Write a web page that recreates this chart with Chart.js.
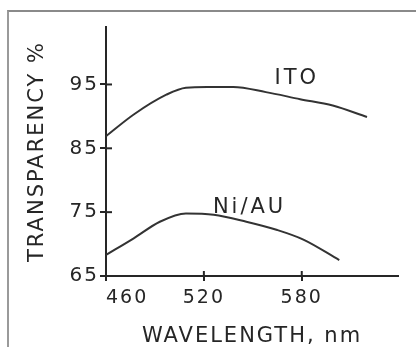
<!DOCTYPE html>
<html><head><meta charset="utf-8">
<script src="https://cdn.jsdelivr.net/npm/chart.js@4/dist/chart.umd.min.js"></script>
<style>
html,body{margin:0;padding:0;background:#fff;overflow:hidden;}
#wrap{position:relative;width:416px;height:347px;}
#frame{position:absolute;left:7px;top:10px;width:420px;height:400px;border-top:2px solid #8a8a8a;border-left:2px solid #9a9a9a;}
canvas{position:absolute;left:0;top:0;}
</style></head><body>
<div id="wrap"><div id="frame"></div><canvas id="c" width="416" height="347"></canvas></div>
<script>
// Data
const itoWavelengths = [460, 477, 497, 509, 522, 538, 558, 579, 599, 620];
const itoValues      = [86.9, 90.3, 93.4, 94.5, 94.6, 94.6, 93.8, 92.7, 91.7, 89.9];
const niAuWavelengths = [460, 477, 493, 509, 526, 546, 565, 581, 603];
const niAuValues      = [68.3, 70.9, 73.5, 74.8, 74.6, 73.5, 72.2, 70.7, 67.5];
const xTickValues = [460, 520, 580];
const yTickValues = [65, 75, 85, 95];
const seriesNames = ['ITO', 'Ni/AU'];
const seriesLabelAnchors = [[577, 95.9], [548, 75.65]];
const xAxisTitle = 'WAVELENGTH, nm';
const yAxisTitle = 'TRANSPARENCY %';

const INK = '#262626';
const FONT = '"DejaVu Sans", sans-serif';

const toPoints = (xs, ys) => xs.map((x, i) => ({x, y: ys[i]}));

const spacingPlugin = {
  id: 'spacing',
  beforeLayout(c) { c.ctx.letterSpacing = '2px'; },
  beforeDraw(c) { c.ctx.letterSpacing = '2px'; }
};

const innerTicks = {
  id: 'innerTicks',
  afterDraw(c) {
    const ctx = c.ctx, xs = c.scales.x, ys = c.scales.y;
    ctx.save();
    ctx.strokeStyle = INK; ctx.lineWidth = 2;
    yTickValues.slice(1).forEach(v => {
      const p = ys.getPixelForValue(v);
      ctx.beginPath(); ctx.moveTo(xs.left, p); ctx.lineTo(xs.left + 6, p); ctx.stroke();
    });
    xTickValues.slice(1).forEach(v => {
      const p = xs.getPixelForValue(v);
      ctx.beginPath(); ctx.moveTo(p, ys.bottom); ctx.lineTo(p, ys.bottom - 5); ctx.stroke();
    });
    ctx.restore();
  }
};

const seriesLabelPlugin = {
  id: 'seriesLabels',
  afterDatasetsDraw(c) {
    const ctx = c.ctx, xs = c.scales.x, ys = c.scales.y;
    ctx.save();
    ctx.letterSpacing = '3px';
    ctx.fillStyle = INK;
    ctx.font = '21px ' + FONT;
    ctx.textAlign = 'center';
    ctx.textBaseline = 'middle';
    seriesNames.forEach((name, i) => {
      const [wx, wy] = seriesLabelAnchors[i];
      ctx.fillText(name, xs.getPixelForValue(wx), ys.getPixelForValue(wy));
    });
    ctx.restore();
  }
};

const lineStyle = {
  borderColor: '#333', borderWidth: 2, pointRadius: 0, fill: false,
  cubicInterpolationMode: 'monotone', showLine: true
};

new Chart(document.getElementById('c'), {
  type: 'scatter',
  data: {
    datasets: [
      Object.assign({label: seriesNames[0], data: toPoints(itoWavelengths, itoValues)}, lineStyle),
      Object.assign({label: seriesNames[1], data: toPoints(niAuWavelengths, niAuValues)}, lineStyle)
    ]
  },
  options: {
    responsive: false,
    animation: false,
    devicePixelRatio: 1,
    layout: {padding: {top: 27, right: 18, left: 0, bottom: 0}},
    plugins: {legend: {display: false}, tooltip: {enabled: false}},
    scales: {
      x: {
        type: 'linear', position: 'bottom', min: 460, max: 639,
        afterBuildTicks(s) { s.ticks = xTickValues.map(v => ({value: v})); },
        afterFit(s) { s.height = 71; },
        border: {display: true, color: INK, width: 2},
        grid: {drawOnChartArea: false, drawTicks: true, tickLength: 5, color: INK, lineWidth: 2},
        ticks: {
          color: INK, padding: 6, maxRotation: 0, autoSkip: false,
          font: {family: FONT, size: 19},
          callback: v => (v === xTickValues[0] ? '\u2007\u2007\u2007' + v : String(v))
        },
        title: {display: true, text: xAxisTitle, color: INK, font: {family: FONT, size: 21}, padding: {top: 0, bottom: -2}}
      },
      y: {
        type: 'linear', position: 'left', min: 65, max: 104,
        afterBuildTicks(s) { s.ticks = yTickValues.map(v => ({value: v})); },
        afterFit(s) { s.width = 106; },
        border: {display: true, color: INK, width: 2},
        grid: {drawOnChartArea: false, drawTicks: true, tickLength: 6, color: INK, lineWidth: 2},
        ticks: {color: INK, padding: 1, autoSkip: false, font: {family: FONT, size: 20}},
        title: {display: true, text: yAxisTitle, color: INK, font: {family: FONT, size: 21}, padding: {top: 25, bottom: 0}}
      }
    }
  },
  plugins: [spacingPlugin, innerTicks, seriesLabelPlugin]
});
</script>
</body></html>
